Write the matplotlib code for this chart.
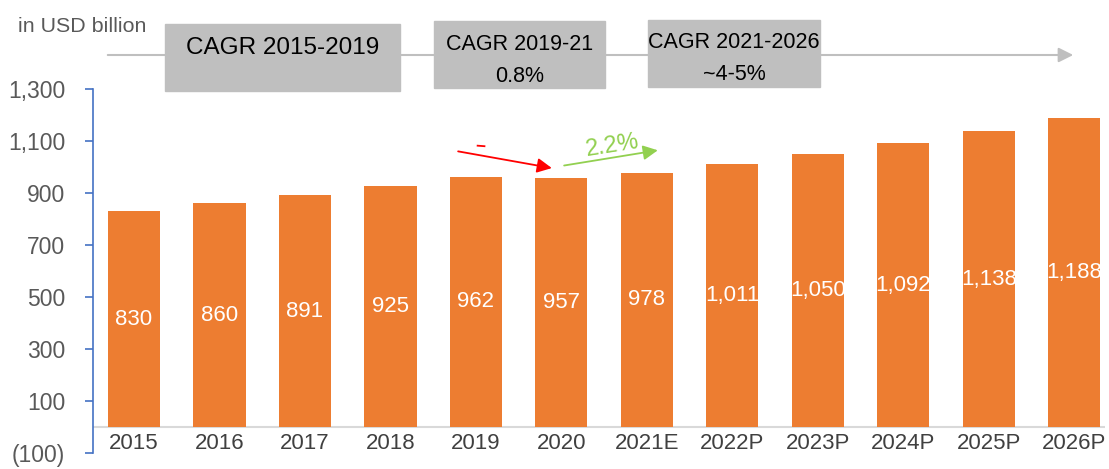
import matplotlib
matplotlib.use('Agg')
import matplotlib.pyplot as plt
from matplotlib.patches import Rectangle, FancyArrowPatch

plt.rcParams['font.family'] = ['Liberation Sans', 'DejaVu Sans']

years = ['2015', '2016', '2017', '2018', '2019', '2020', '2021E',
         '2022P', '2023P', '2024P', '2025P', '2026P']
values = [830, 860, 891, 925, 962, 957, 978, 1011, 1050, 1092, 1138, 1188]
yticks = [-100, 100, 300, 500, 700, 900, 1100, 1300]
ytick_labels = ['(100)', '100', '300', '500', '700', '900', '1,100', '1,300']
cagr_boxes = ['CAGR 2015-2019', 'CAGR 2019-21\n0.8%', 'CAGR 2021-2026\n~4-5%']

W, H = 1109, 469
fig = plt.figure(figsize=(W / 100, H / 100), dpi=100)
ax = fig.add_axes([93 / W, 1 - 453 / H, (1105 - 93) / W, (453 - 89) / H])

x = list(range(len(years)))
ax.bar(x, values, width=0.61, color='#ED7D31', zorder=2)
for xi, v in zip(x, values):
    ax.text(xi, v / 2, f'{v:,}', ha='center', va='center', color='white', fontsize=16, zorder=3)

ax.set_ylim(-100, 1300)
ax.set_xlim(-0.48, 11.36)
ax.set_yticks(yticks)
ax.set_yticklabels(ytick_labels, fontsize=16.5, color='#595959')
ax.tick_params(axis='y', color='#4472C4', length=6, width=1.2, pad=14)
ax.set_xticks([])
for name in ['top', 'right', 'bottom']:
    ax.spines[name].set_visible(False)
ax.spines['left'].set_color('#4472C4')
ax.spines['left'].set_linewidth(1.2)
ax.axhline(0, color='#D9D9D9', lw=1.5, zorder=1)
for xi, lab in zip(x, years):
    ax.text(xi, -62, lab, ha='center', va='center', fontsize=16, color='#404040')

# growth arrows
ax.add_patch(FancyArrowPatch((3.76, 1062), (4.92, 994), arrowstyle='-|>', mutation_scale=22,
                             color='#FF0000', lw=1.3, clip_on=False))
ax.plot([4.02, 4.1], [1082, 1080], color='#FF0000', lw=1.3, clip_on=False)
ax.add_patch(FancyArrowPatch((5.0, 1004), (6.16, 1066), arrowstyle='-|>', mutation_scale=22,
                             color='#92D050', lw=1.3, clip_on=False))
ax.text(5.6, 1082, '2.2%', color='#92D050', fontsize=17, ha='center', va='center', rotation=9)

# header timeline
fig.text(18 / W, 1 - 27 / H, 'in USD billion', fontsize=15.4, color='#595959', va='center', ha='left')
fig.add_artist(FancyArrowPatch((105 / W, 1 - 55 / H), (1076 / W, 1 - 55 / H), transform=fig.transFigure,
                               arrowstyle='-|>', mutation_scale=22, color='#BFBFBF', lw=1.5))
boxes = [(165, 400, 24, 91), (434, 605, 21, 88), (648, 820, 20, 87)]
for (x0, x1, y0, y1), label in zip(boxes, cagr_boxes):
    fig.add_artist(Rectangle((x0 / W, 1 - y1 / H), (x1 - x0) / W, (y1 - y0) / H,
                             transform=fig.transFigure, color='#BFBFBF'))
    lines = label.split('\n')
    if len(lines) == 1:
        fig.text((x0 + x1) / 2 / W, 1 - 48 / H, label, fontsize=17.5, ha='center', va='center')
    else:
        for i, line in enumerate(lines):
            fig.text((x0 + x1) / 2 / W, 1 - (y0 + 23 + 32 * i) / H, line, fontsize=15.5,
                     ha='center', va='center')

fig.savefig('out.png', dpi=100)
